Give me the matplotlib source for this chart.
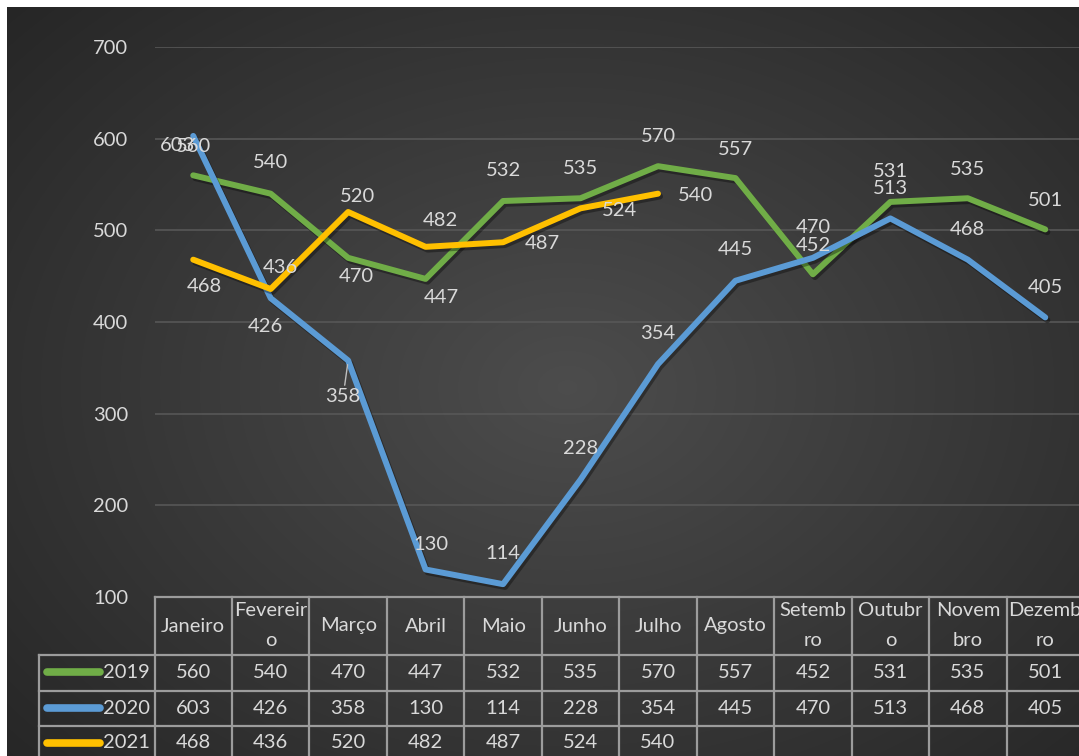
import numpy as np
import matplotlib
matplotlib.use("Agg")
import matplotlib.pyplot as plt
import matplotlib.patheffects as pe

plt.rcParams['font.family'] = ['Lato', 'DejaVu Sans']

# dados
meses = ["Janeiro", "Fevereir\no", "Março", "Abril", "Maio", "Junho", "Julho",
         "Agosto", "Setemb\nro", "Outubr\no", "Novem\nbro", "Dezemb\nro"]
v2019 = [560, 540, 470, 447, 532, 535, 570, 557, 452, 531, 535, 501]
v2020 = [603, 426, 358, 130, 114, 228, 354, 445, 470, 513, 468, 405]
v2021 = [468, 436, 520, 482, 487, 524, 540]

cores = {"2019": "#70AD47", "2020": "#5B9BD5", "2021": "#FFC000"}

# posicao dos rotulos (deslocamento em pixels)
off2019 = [(0, 29), (0, 31), (8, -19), (16, -19), (0, 31), (0, 30), (0, 30),
           (0, 29), (0, 29), (0, 30), (0, 29), (0, 29)]
off2020 = [(-16, -10), (-5, -28), (-5, -36), (5, 25), (0, 31), (0, 31), (0, 31),
           (0, 31), (0, 30), (0, 30), (0, 30), (0, 30)]
off2021 = [(11, -27), (10, 21), (9, 15), (15, 26), (39, -1), (39, -2), (38, -2)]

W, H = 1079, 756
txt = "#d9d9d9"
fs = 14.5

fig = plt.figure(figsize=(W / 100, H / 100), dpi=100, facecolor="white")

# fundo com gradiente radial
bg = fig.add_axes([7 / W, 0, 1 - 7 / W, 1 - 7 / H])
yy, xx = np.mgrid[0:749, 0:1072]
r = np.sqrt(((xx - 560) / 760) ** 2 + ((yy - 380) / 560) ** 2)
val = 0.30 - 0.15 * np.clip(r, 0, 1)
bg.imshow(np.dstack([val, val, val]), aspect="auto", extent=(0, 1072, 749, 0))
bg.axis("off")

left, right = 154.5, 1084.0
ax = fig.add_axes([left / W, 1 - 597 / H, (right - left) / W, 550 / H])
ax.patch.set_alpha(0)
ax.set_xlim(-0.5, 11.5)
ax.set_ylim(100, 700)
ax.set_yticks(range(100, 800, 100))
ax.set_xticks([])
ax.grid(axis="y", color="#575757", lw=1.2)
ax.tick_params(axis="y", length=0, pad=19, labelsize=fs, labelcolor=txt)
for s in ax.spines.values():
    s.set_visible(False)

sombra = [pe.SimpleLineShadow(offset=(1.5, -2), shadow_color="black", alpha=0.35),
          pe.Normal()]

series = [("2019", v2019, off2019), ("2020", v2020, off2020), ("2021", v2021, off2021)]
for nome, vals, offs in series:
    x = np.arange(len(vals))
    ax.plot(x, vals, color=cores[nome], lw=4.3, solid_capstyle="round",
            solid_joinstyle="round", clip_on=False, path_effects=sombra)
for nome, vals, offs in series:
    for i, (v, o) in enumerate(zip(vals, offs)):
        kw = {}
        if nome == "2020" and i == 2:
            kw["arrowprops"] = dict(arrowstyle="-", color="#bfbfbf", lw=1,
                                    shrinkA=0, shrinkB=3)
        ax.annotate(str(v), (i, v), xytext=o, textcoords="offset pixels",
                    ha="center", va="center", color=txt, fontsize=fs,
                    annotation_clip=False, **kw)

# tabela de dados
tb = fig.add_axes([left / W, 0, (right - left) / W, 159 / H])
tb.set_xlim(-0.5, 11.5)
tb.set_ylim(159, 0)
tb.axis("off")
tb.patch.set_alpha(0)
linha = dict(color="#9c9c9c", lw=1.6, clip_on=False)
leg_x = -0.5 - (155 - 40) / 77.45
rows = [0, 58, 93.5, 129, 165]
tb.plot([-0.5, 11.5], [rows[0], rows[0]], **linha)
for yv in rows[1:4]:
    tb.plot([leg_x, 11.5], [yv, yv], **linha)
for k in range(13):
    tb.plot([k - 0.5, k - 0.5], [0, 165], **linha)
tb.plot([leg_x, leg_x], [58, 165], **linha)

for i, m in enumerate(meses):
    partes = m.split("\n")
    if len(partes) == 1:
        tb.text(i, 29, m, ha="center", va="center", color=txt, fontsize=fs)
    else:
        tb.text(i, 14, partes[0], ha="center", va="center", color=txt, fontsize=fs)
        tb.text(i, 43, partes[1], ha="center", va="center", color=txt, fontsize=fs)

row_y = [75, 111, 146]
px = lambda p: (p - left) / 77.45 - 0.5
for (nome, vals, offs), yv in zip(series, row_y):
    tb.plot([px(47), px(100)], [yv, yv], color=cores[nome], lw=5.5,
            solid_capstyle="round", clip_on=False)
    tb.text(px(103), yv, nome, ha="left", va="center", color=txt, fontsize=fs)
    for i, v in enumerate(vals):
        tb.text(i, yv, str(v), ha="center", va="center", color=txt, fontsize=fs)

fig.savefig("out.png", dpi=100, facecolor="white")
